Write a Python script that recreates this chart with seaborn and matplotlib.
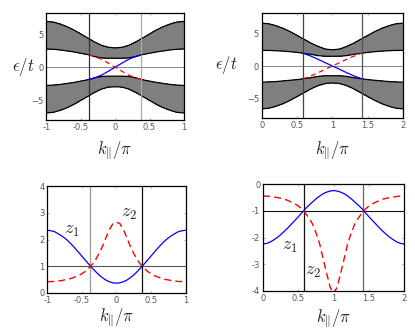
import matplotlib
matplotlib.use("Agg")
import matplotlib.pyplot as plt
import pandas as pd
import seaborn as sns

# ---- data ----
# top-left panel: band edges, k from -1 to 1
k_tl = [-1.0, -0.9, -0.8, -0.7, -0.6, -0.5, -0.4, -0.3, -0.2, -0.1, 0.0,
        0.1, 0.2, 0.3, 0.4, 0.5, 0.6, 0.7, 0.8, 0.9, 1.0]
tl_up_outer = [6.9, 6.8, 6.5, 6.1, 5.6, 5.0, 4.4, 3.8, 3.3, 3.0, 2.9,
               3.0, 3.3, 3.8, 4.4, 5.0, 5.6, 6.1, 6.5, 6.8, 6.9]
tl_up_inner = [2.75, 2.7, 2.6, 2.45, 2.3, 2.1, 1.9, 1.6, 1.4, 1.35, 1.35,
               1.35, 1.4, 1.6, 1.9, 2.1, 2.3, 2.45, 2.6, 2.7, 2.75]
tl_lo_inner = [-2.75, -2.7, -2.6, -2.45, -2.3, -2.1, -1.9, -1.6, -1.4, -1.35, -1.35,
               -1.35, -1.4, -1.6, -1.9, -2.1, -2.3, -2.45, -2.6, -2.7, -2.75]
tl_lo_outer = [-6.9, -6.8, -6.5, -6.1, -5.6, -5.0, -4.4, -3.8, -3.3, -3.0, -2.95,
               -3.0, -3.3, -3.8, -4.4, -5.0, -5.6, -6.1, -6.5, -6.8, -6.9]
k_tl_edge = [-0.38, -0.3, -0.2, -0.1, 0.0, 0.1, 0.2, 0.3, 0.38]
tl_edge_blue = [-1.88, -1.62, -1.2, -0.62, 0.0, 0.62, 1.2, 1.62, 1.88]
tl_edge_red = [1.88, 1.62, 1.2, 0.62, 0.0, -0.62, -1.2, -1.62, -1.88]

# top-right panel: band edges, k from 0 to 2
k_tr = [0.0, 0.1, 0.2, 0.3, 0.4, 0.5, 0.6, 0.7, 0.8, 0.9, 1.0,
        1.1, 1.2, 1.3, 1.4, 1.5, 1.6, 1.7, 1.8, 1.9, 2.0]
tr_up_outer = [6.6, 6.5, 6.2, 5.8, 5.3, 4.7, 4.1, 3.5, 3.0, 2.6, 2.5,
               2.6, 3.0, 3.5, 4.1, 4.7, 5.3, 5.8, 6.2, 6.5, 6.6]
tr_up_inner = [2.4, 2.4, 2.35, 2.3, 2.2, 2.1, 1.95, 1.8, 1.6, 1.5, 1.5,
               1.5, 1.6, 1.8, 1.95, 2.1, 2.2, 2.3, 2.35, 2.4, 2.4]
tr_lo_inner = [-2.5, -2.45, -2.4, -2.3, -2.2, -2.1, -1.95, -1.8, -1.6, -1.5, -1.5,
               -1.5, -1.6, -1.8, -1.95, -2.1, -2.2, -2.3, -2.4, -2.45, -2.5]
tr_lo_outer = [-6.6, -6.5, -6.2, -5.8, -5.3, -4.7, -4.1, -3.5, -3.0, -2.7, -2.6,
               -2.7, -3.0, -3.5, -4.1, -4.7, -5.3, -5.8, -6.2, -6.5, -6.6]
k_tr_edge = [0.58, 0.7, 0.8, 0.9, 1.0, 1.1, 1.2, 1.3, 1.42]
tr_edge_blue = [1.98, 1.5, 1.02, 0.5, 0.0, -0.5, -1.02, -1.5, -1.98]
tr_edge_red = [-1.98, -1.5, -1.02, -0.5, 0.0, 0.5, 1.02, 1.5, 1.98]

# bottom-left panel: z1 (blue) and z2 (red), k from -1 to 1
k_bl = [-1.0, -0.95, -0.9, -0.85, -0.8, -0.75, -0.7, -0.65, -0.6, -0.55, -0.5,
        -0.45, -0.4, -0.35, -0.3, -0.25, -0.2, -0.15, -0.1, -0.05, 0.0,
        0.05, 0.1, 0.15, 0.2, 0.25, 0.3, 0.35, 0.4, 0.45, 0.5,
        0.55, 0.6, 0.65, 0.7, 0.75, 0.8, 0.85, 0.9, 0.95, 1.0]
bl_z1 = [2.35, 2.33, 2.3, 2.23, 2.15, 2.06, 1.95, 1.82, 1.68, 1.53, 1.38,
         1.23, 1.08, 0.93, 0.8, 0.67, 0.57, 0.48, 0.42, 0.38, 0.37,
         0.38, 0.42, 0.48, 0.57, 0.67, 0.8, 0.93, 1.08, 1.23, 1.38,
         1.53, 1.68, 1.82, 1.95, 2.06, 2.15, 2.23, 2.3, 2.33, 2.35]
bl_z2 = [0.42, 0.43, 0.43, 0.45, 0.46, 0.49, 0.51, 0.55, 0.6, 0.65, 0.72,
         0.81, 0.93, 1.07, 1.25, 1.49, 1.75, 2.08, 2.38, 2.6, 2.65,
         2.6, 2.38, 2.08, 1.75, 1.49, 1.25, 1.07, 0.93, 0.81, 0.72,
         0.65, 0.6, 0.55, 0.51, 0.49, 0.46, 0.45, 0.43, 0.43, 0.42]

# bottom-right panel: z1 (blue) and z2 (red), k from 0 to 2
k_br = [0.0, 0.05, 0.1, 0.15, 0.2, 0.25, 0.3, 0.35, 0.4, 0.45, 0.5,
        0.55, 0.6, 0.65, 0.7, 0.75, 0.8, 0.85, 0.9, 0.95, 1.0,
        1.05, 1.1, 1.15, 1.2, 1.25, 1.3, 1.35, 1.4, 1.45, 1.5,
        1.55, 1.6, 1.65, 1.7, 1.75, 1.8, 1.85, 1.9, 1.95, 2.0]
br_z1 = [-2.24, -2.22, -2.17, -2.09, -2.0, -1.89, -1.77, -1.64, -1.5, -1.36, -1.22,
         -1.07, -0.92, -0.79, -0.67, -0.55, -0.45, -0.36, -0.3, -0.26, -0.24,
         -0.26, -0.3, -0.36, -0.45, -0.55, -0.67, -0.79, -0.92, -1.07, -1.22,
         -1.36, -1.5, -1.64, -1.77, -1.89, -2.0, -2.09, -2.17, -2.22, -2.24]
br_z2 = [-0.45, -0.45, -0.46, -0.48, -0.5, -0.53, -0.56, -0.61, -0.67, -0.74, -0.82,
         -0.93, -1.09, -1.27, -1.49, -1.82, -2.22, -2.78, -3.33, -3.85, -4.1,
         -3.85, -3.33, -2.78, -2.22, -1.82, -1.49, -1.27, -1.09, -0.93, -0.82,
         -0.74, -0.67, -0.61, -0.56, -0.53, -0.5, -0.48, -0.46, -0.45, -0.45]

# reference lines
tl_vlines = [(-0.38, "#333333"), (0.38, "#aaaaaa")]
tr_vlines = [(0.58, "#444444"), (1.42, "#555555")]
bl_vlines = [(-0.375, "#999999"), (0.375, "#111111")]
br_vlines = [(0.58, "#111111"), (1.42, "#666666")]

sns.set_theme(style="ticks")
plt.rcParams["font.family"] = ["DejaVu Sans"]
plt.rcParams["mathtext.fontset"] = "cm"

fig = plt.figure(figsize=(4.15, 3.36), dpi=100)
ax_tl = fig.add_axes([0.112, 0.642, 0.331, 0.320])
ax_tr = fig.add_axes([0.631, 0.649, 0.340, 0.313])
ax_bl = fig.add_axes([0.114, 0.128, 0.333, 0.318])
ax_br = fig.add_axes([0.634, 0.134, 0.340, 0.318])


def style_axes(ax):
    for sp in ax.spines.values():
        sp.set_color("black")
        sp.set_linewidth(0.9)
    ax.tick_params(direction="in", length=1.5, width=0.5, color="#888888",
                   labelsize=6, labelcolor="#555555", pad=2,
                   top=True, right=True)


def band_panel(ax, k, up_out, up_in, lo_in, lo_out, k_edge, blue, red, vlines, xlim, xticks):
    bands = pd.DataFrame({"k": k, "up_out": up_out, "up_in": up_in,
                          "lo_in": lo_in, "lo_out": lo_out})
    # gray band regions as closed polygons
    for lo_col, hi_col in [("up_in", "up_out"), ("lo_out", "lo_in")]:
        xs = list(bands["k"]) + list(bands["k"])[::-1]
        ys = list(bands[hi_col]) + list(bands[lo_col])[::-1]
        ax.fill(xs, ys, facecolor="#7f7f7f", edgecolor="none",
                linewidth=0, antialiased=False, zorder=1)
    for col in ["up_out", "up_in", "lo_in", "lo_out"]:
        sns.lineplot(data=bands, x="k", y=col, ax=ax, color="black", lw=0.9,
                     sort=False, estimator=None, zorder=2)
    ax.axhline(0, color="#888888", lw=0.7, zorder=2)
    for xv, c in vlines:
        ax.axvline(xv, color=c, lw=0.9, zorder=2)
    edge = pd.DataFrame({"k": k_edge, "blue": blue, "red": red})
    sns.lineplot(data=edge, x="k", y="blue", ax=ax, color="blue", lw=0.9,
                 sort=False, estimator=None, zorder=3)
    sns.lineplot(data=edge, x="k", y="red", ax=ax, color="red", lw=0.9,
                 sort=False, estimator=None, linestyle=(0, (4, 3)), zorder=3)
    ax.set_xlim(*xlim)
    ax.set_ylim(-8, 8.2)
    ax.set_xticks(xticks)
    ax.set_yticks([-5, 0, 5])
    ax.set_xticklabels([f"{t:g}" for t in xticks])
    ax.set_ylabel(r"$\epsilon/t$", rotation=0, fontsize=12, va="center", ha="center")
    ax.set_xlabel(r"$k_{\|}/\pi$", fontsize=12, va="center")
    style_axes(ax)


def z_panel(ax, k, z1, z2, vlines, hline, xlim, ylim, xticks, yticks, pos1, pos2):
    zs = pd.DataFrame({"k": k, "z1": z1, "z2": z2})
    ax.axhline(hline[0], color=hline[1], lw=0.8)
    for xv, c in vlines:
        ax.axvline(xv, color=c, lw=0.9)
    sns.lineplot(data=zs, x="k", y="z1", ax=ax, color="blue", lw=0.9,
                 sort=False, estimator=None)
    sns.lineplot(data=zs, x="k", y="z2", ax=ax, color="red", lw=1.0,
                 sort=False, estimator=None, linestyle=(0, (5, 3)))
    ax.text(pos1[0], pos1[1], r"$z_1$", fontsize=13, ha="left", va="center")
    ax.text(pos2[0], pos2[1], r"$z_2$", fontsize=13, ha="left", va="center")
    ax.set_xlim(*xlim)
    ax.set_ylim(*ylim)
    ax.set_xticks(xticks)
    ax.set_yticks(yticks)
    ax.set_xticklabels([f"{t:g}" for t in xticks])
    ax.set_yticklabels([f"{t:g}" for t in yticks])
    ax.set_ylabel("")
    ax.set_xlabel(r"$k_{\|}/\pi$", fontsize=12, va="center")
    style_axes(ax)


band_panel(ax_tl, k_tl, tl_up_outer, tl_up_inner, tl_lo_inner, tl_lo_outer,
           k_tl_edge, tl_edge_blue, tl_edge_red, tl_vlines, (-1, 1), [-1, -0.5, 0, 0.5, 1])
band_panel(ax_tr, k_tr, tr_up_outer, tr_up_inner, tr_lo_inner, tr_lo_outer,
           k_tr_edge, tr_edge_blue, tr_edge_red, tr_vlines, (0, 2), [0, 0.5, 1, 1.5, 2])
ax_tl.yaxis.set_label_coords(-0.17, 0.5)
ax_tr.yaxis.set_label_coords(-0.255, 0.5)
ax_tl.xaxis.set_label_coords(0.5, -0.29)
ax_tr.xaxis.set_label_coords(0.5, -0.32)

z_panel(ax_bl, k_bl, bl_z1, bl_z2, bl_vlines, (1, "#555555"), (-1, 1), (0, 4),
        [-1, -0.5, 0, 0.5, 1], [0, 1, 2, 3, 4], (-0.76, 2.35), (0.07, 3.0))
z_panel(ax_br, k_br, br_z1, br_z2, br_vlines, (-1, "#111111"), (0, 2), (-4, 0),
        [0, 0.5, 1, 1.5, 2], [-4, -3, -2, -1, 0], (0.27, -2.3), (0.6, -3.25))
ax_bl.xaxis.set_label_coords(0.5, -0.24)
ax_br.xaxis.set_label_coords(0.5, -0.27)

fig.savefig("out.png", dpi=100)
